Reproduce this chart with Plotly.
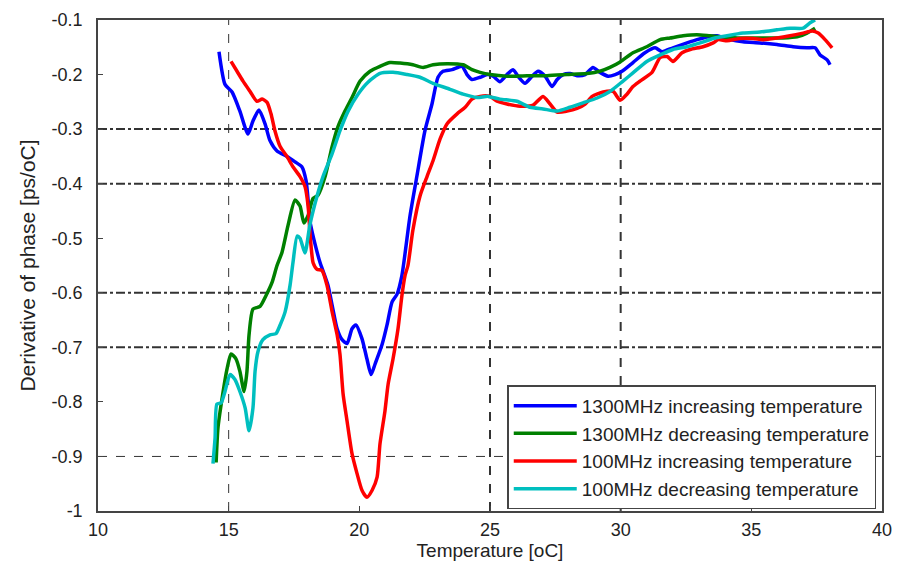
import plotly.graph_objects as go

# ---- data ----
blue_x = [14.63, 14.86, 15.13, 15.43, 15.74, 15.93, 16.16, 16.39, 16.58, 16.85, 17.23, 17.54, 17.8, 17.96, 18.04, 18.1, 18.42,
          18.5, 18.8, 18.96, 19.15, 19.34, 19.53, 19.72, 19.87, 20.1, 20.29, 20.45, 20.6, 20.87, 21.06, 21.25, 21.44, 21.63,
          21.94, 22.2, 22.51, 22.78, 23.01, 23.2, 23.55, 23.93, 24.12, 24.31, 24.62, 24.89, 25.12, 25.38, 25.65, 25.88,
          26.07, 26.34, 26.61, 26.84, 27.11, 27.37, 27.57, 27.8, 28.06, 28.33, 28.64, 28.94, 29.21, 29.52, 29.79, 30.05,
          30.47, 30.93, 31.32, 31.58, 32.0, 32.54, 32.92, 33.31, 33.69, 34.18, 34.68, 35.33, 35.98, 36.6, 37.13, 37.44,
          37.63, 37.9, 38.01]
blue_y = [-0.158, -0.218, -0.232, -0.267, -0.309, -0.285, -0.265, -0.29, -0.321, -0.34, -0.35, -0.36, -0.369, -0.394, -0.43, -0.466, -0.532,
          -0.545, -0.586, -0.623, -0.666, -0.686, -0.693, -0.666, -0.659, -0.684, -0.721, -0.75, -0.731, -0.695, -0.659, -0.617, -0.603, -0.568,
          -0.459, -0.387, -0.303, -0.254, -0.205, -0.194, -0.191, -0.185, -0.2, -0.209, -0.205, -0.2, -0.203, -0.213, -0.2, -0.191,
          -0.203, -0.216, -0.203, -0.194, -0.203, -0.222, -0.209, -0.2, -0.198, -0.202, -0.2, -0.187, -0.196, -0.203, -0.2, -0.194,
          -0.178, -0.16, -0.151, -0.158, -0.151, -0.142, -0.136, -0.131, -0.129, -0.136, -0.14, -0.142, -0.145, -0.149, -0.151, -0.151,
          -0.164, -0.173, -0.182]

green_x = [14.52, 14.59, 14.75, 14.94, 15.09, 15.28, 15.43, 15.59, 15.7, 15.78, 15.93, 16.2, 16.43, 16.66, 16.85, 17.04,
           17.27, 17.54, 17.73, 17.88, 18.04, 18.23, 18.42, 18.69, 18.96, 19.18, 19.45, 19.72, 20.03, 20.41, 20.79, 21.17,
           21.56, 22.05, 22.44, 22.82, 23.36, 23.97, 24.31, 24.62, 25.0, 25.65, 26.42, 27.18, 27.95, 28.71, 29.21, 29.59,
           29.98, 30.47, 31.0, 31.51, 31.89, 32.39, 32.92, 33.42, 33.92, 34.57, 35.22, 35.72, 36.21, 36.75, 37.13, 37.44]
green_y = [-0.911, -0.848, -0.793, -0.739, -0.712, -0.721, -0.744, -0.781, -0.744, -0.677, -0.63, -0.625, -0.605, -0.581, -0.55, -0.526,
           -0.477, -0.43, -0.441, -0.472, -0.458, -0.427, -0.421, -0.387, -0.332, -0.296, -0.267, -0.242, -0.212, -0.194, -0.185, -0.178,
           -0.179, -0.182, -0.187, -0.182, -0.18, -0.182, -0.191, -0.196, -0.2, -0.203, -0.202, -0.202, -0.2, -0.198, -0.194, -0.187,
           -0.177, -0.16, -0.149, -0.136, -0.133, -0.129, -0.127, -0.129, -0.131, -0.133, -0.133, -0.133, -0.133, -0.131, -0.124, -0.115]

red_x = [15.09, 15.32, 15.55, 15.82, 16.08, 16.28, 16.47, 16.62, 16.77, 16.97, 17.23, 17.46, 17.73, 17.92, 18.04, 18.11, 18.19,
         18.23, 18.38, 18.57, 18.76, 18.96, 19.15, 19.26, 19.38, 19.53, 19.72, 19.91, 20.1, 20.29, 20.49, 20.68, 20.79, 20.98,
         21.1, 21.29, 21.48, 21.63, 21.75, 21.86, 22.05, 22.32, 22.59, 22.82, 23.09, 23.36, 23.74, 24.05, 24.31, 24.62, 25.0,
         25.27, 25.65, 26.15, 26.65, 27.03, 27.3, 27.57, 27.95, 28.33, 28.64, 28.91, 29.33, 29.71, 29.98, 30.24, 30.47, 30.74,
         31.2, 31.51, 31.78, 32.0, 32.35, 32.66, 33.15, 33.54, 33.73, 34.07, 34.57, 35.07, 35.45, 35.98, 36.48, 36.98, 37.33,
         37.56, 37.82, 38.09]
red_y = [-0.176, -0.194, -0.212, -0.231, -0.249, -0.245, -0.251, -0.272, -0.303, -0.332, -0.35, -0.369, -0.387, -0.405, -0.441, -0.49, -0.532,
         -0.545, -0.557, -0.559, -0.586, -0.635, -0.677, -0.713, -0.786, -0.835, -0.895, -0.931, -0.962, -0.975, -0.962, -0.938, -0.877, -0.817,
         -0.768, -0.721, -0.666, -0.605, -0.568, -0.55, -0.485, -0.423, -0.387, -0.358, -0.318, -0.29, -0.272, -0.26, -0.245, -0.24, -0.24,
         -0.249, -0.254, -0.258, -0.256, -0.24, -0.254, -0.269, -0.267, -0.262, -0.254, -0.24, -0.232, -0.231, -0.247, -0.236, -0.222, -0.212,
         -0.196, -0.169, -0.167, -0.176, -0.16, -0.154, -0.149, -0.142, -0.136, -0.138, -0.134, -0.134, -0.136, -0.133, -0.129, -0.124, -0.12,
         -0.124, -0.136, -0.151]

cyan_x = [14.4, 14.48, 14.55, 14.71, 14.86, 15.05, 15.24, 15.43, 15.63, 15.78, 15.93, 16.01, 16.12, 16.31, 16.58, 16.81, 16.97,
          17.16, 17.35, 17.46, 17.62, 17.73, 17.92, 18.11, 18.38, 18.61, 18.96, 19.26, 19.57, 19.95, 20.33, 20.79, 21.29, 21.83,
          22.32, 22.82, 23.47, 23.97, 24.5, 24.93, 25.38, 26.03, 26.53, 27.03, 27.57, 28.06, 28.56, 29.1, 29.59, 30.09, 30.47,
          31.0, 31.51, 32.0, 32.54, 33.04, 33.54, 34.07, 34.68, 35.33, 35.98, 36.48, 36.98, 37.25, 37.44]
cyan_y = [-0.913, -0.866, -0.804, -0.802, -0.781, -0.75, -0.759, -0.781, -0.811, -0.853, -0.811, -0.744, -0.708, -0.686, -0.677, -0.675, -0.659,
          -0.635, -0.586, -0.545, -0.496, -0.5, -0.527, -0.475, -0.423, -0.387, -0.345, -0.303, -0.267, -0.236, -0.214, -0.198, -0.196, -0.2,
          -0.205, -0.216, -0.227, -0.236, -0.242, -0.24, -0.245, -0.249, -0.26, -0.263, -0.267, -0.26, -0.252, -0.243, -0.231, -0.212, -0.197,
          -0.176, -0.164, -0.154, -0.149, -0.142, -0.134, -0.129, -0.124, -0.122, -0.118, -0.115, -0.115, -0.105, -0.1]

series = [
    ("1300MHz increasing temperature", blue_x, blue_y, "#0000ff"),
    ("1300MHz decreasing temperature", green_x, green_y, "#008000"),
    ("100MHz increasing temperature", red_x, red_y, "#ff0000"),
    ("100MHz decreasing temperature", cyan_x, cyan_y, "#00bfbf"),
]

x_ticks = [10, 15, 20, 25, 30, 35, 40]
y_ticks = [-1, -0.9, -0.8, -0.7, -0.6, -0.5, -0.4, -0.3, -0.2, -0.1]
y_ticktext = ["-1", "-0.9", "-0.8", "-0.7", "-0.6", "-0.5", "-0.4", "-0.3", "-0.2", "-0.1"]

fig = go.Figure()
for name, xs, ys, col in series:
    fig.add_trace(go.Scatter(x=xs, y=ys, mode="lines", name=name,
                             line=dict(color=col, width=3.5, shape="spline", smoothing=0.6)))

# grid lines as in the reference (only some are drawn)
shapes = []
for xv, w, d in [(15, 1, "dash"), (25, 2, "dash"), (30, 2, "dash")]:
    shapes.append(dict(type="line", xref="x", yref="y", x0=xv, x1=xv, y0=-1, y1=-0.1,
                       line=dict(color="#333333", width=w, dash=d), layer="below"))
for yv, w, d in [(-0.3, 2, "dashdot"), (-0.4, 2, "dashdot"), (-0.6, 2, "dashdot"), (-0.7, 2, "dashdot"), (-0.9, 1, "dash")]:
    shapes.append(dict(type="line", xref="x", yref="y", x0=10, x1=40, y0=yv, y1=yv,
                       line=dict(color="#333333", width=w, dash=d), layer="below"))

font_family = "Liberation Sans, Arial, sans-serif"
fig.update_layout(
    width=896, height=555,
    margin=dict(l=90, r=22, t=12, b=52),
    paper_bgcolor="white", plot_bgcolor="white",
    shapes=shapes,
    font=dict(family=font_family, size=15, color="#222222"),
    xaxis=dict(range=[10, 40], tickvals=x_ticks, ticktext=[str(v) for v in x_ticks],
               showgrid=False, zeroline=False, showline=True, linecolor="#444444", linewidth=1.5,
               mirror=True, ticks="inside", ticklen=5, tickcolor="#444444", ticklabelstandoff=2,
               ticklabeloverflow="allow",
               tickfont=dict(size=18, family=font_family, color="#222222"),
               automargin=False,
               title=dict(text="Temperature [oC]", font=dict(size=19), standoff=4)),
    yaxis=dict(range=[-1, -0.1], tickvals=y_ticks, ticktext=y_ticktext,
               showgrid=False, zeroline=False, showline=True, linecolor="#444444", linewidth=1.5,
               mirror=True, ticks="inside", ticklen=5, tickcolor="#444444", ticklabelstandoff=10,
               ticklabeloverflow="allow",
               tickfont=dict(size=18, family=font_family, color="#222222"),
               automargin=False,
               title=dict(text="Derivative of phase [ps/oC]", font=dict(size=21), standoff=10)),
    legend=dict(x=0.522, y=0.256, xanchor="left", yanchor="top",
                bgcolor="white", bordercolor="#444444", borderwidth=1.5,
                itemwidth=63,
                font=dict(size=19, family=font_family, color="#222222")),
    showlegend=True,
)

fig.write_html("out.html")
